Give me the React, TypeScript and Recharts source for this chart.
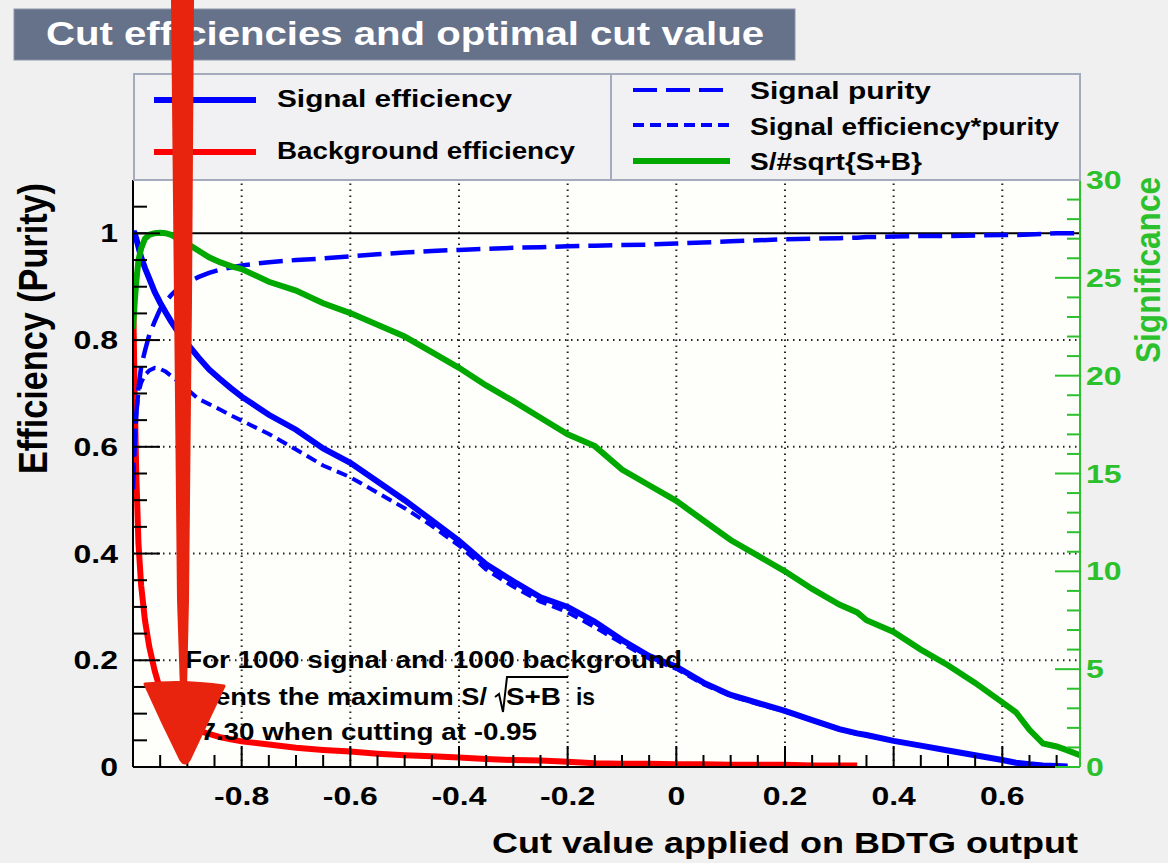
import React from 'react';
import { LineChart, Line, XAxis, YAxis, CartesianGrid, ReferenceLine } from 'recharts';

const FONT = '"Liberation Sans", Arial, Helvetica, sans-serif';
const STRETCH = 1.28;
const GREEN_LINE = '#00a800';
const GREEN_AXIS = '#2cc02c';

// cut value on the BDTG output
const cutValues = [
  -1.0, -0.997, -0.994, -0.99, -0.985, -0.978, -0.97, -0.96, -0.95, -0.94,
  -0.93, -0.92, -0.91, -0.9, -0.88, -0.86, -0.84, -0.82, -0.8, -0.75,
  -0.7, -0.65, -0.6, -0.55, -0.5, -0.45, -0.4, -0.35, -0.3, -0.25,
  -0.2, -0.15, -0.1, -0.05, 0, 0.05, 0.1, 0.15, 0.2, 0.25,
  0.3, 0.333, 0.35, 0.4, 0.45, 0.5, 0.55, 0.6, 0.625, 0.65,
  0.675, 0.7, 0.72, 0.743,
];

const signalEfficiency = [
  1.0, 1.0, 0.99, 0.975, 0.955, 0.935, 0.915, 0.89, 0.87, 0.852,
  0.835, 0.82, 0.806, 0.793, 0.768, 0.745, 0.727, 0.71, 0.694, 0.66,
  0.632, 0.597, 0.57, 0.535, 0.5, 0.462, 0.424, 0.38, 0.348, 0.318,
  0.3, 0.272, 0.238, 0.208, 0.188, 0.158, 0.135, 0.12, 0.105, 0.088,
  0.071, 0.063, 0.06, 0.049, 0.04, 0.031, 0.022, 0.013, 0.008, 0.005,
  0.003, 0.002, 0.001, null,
];

const backgroundEfficiency = [
  0.9, 0.7, 0.55, 0.42, 0.34, 0.275, 0.225, 0.18, 0.145, 0.12,
  0.103, 0.092, 0.083, 0.077, 0.068, 0.062, 0.056, 0.052, 0.048, 0.042,
  0.036, 0.032, 0.029, 0.025, 0.022, 0.02, 0.018, 0.015, 0.013, 0.012,
  0.01, 0.007, 0.006, 0.006, 0.005, 0.005, 0.004, 0.004, 0.004, 0.003,
  0.003, 0.003, null, null, null, null, null, null, null, null,
  null, null, null, null,
];

const signalPurity = [
  0.52, 0.6, 0.66, 0.71, 0.75, 0.78, 0.81, 0.835, 0.858, 0.872,
  0.884, 0.894, 0.902, 0.908, 0.918, 0.926, 0.932, 0.936, 0.94, 0.946,
  0.95, 0.953, 0.957, 0.961, 0.964, 0.967, 0.969, 0.971, 0.973, 0.974,
  0.976, 0.977, 0.978, 0.979, 0.981, 0.983, 0.985, 0.987, 0.989, 0.99,
  0.991, 0.992, 0.993, 0.994, 0.995, 0.995, 0.996, 0.997, 0.997, 0.998,
  0.999, 1.0, 1.0, 1.0,
];

const effTimesPurity = [
  0.55, 0.6, 0.66, 0.7, 0.72, 0.735, 0.743, 0.748, 0.746, 0.741,
  0.733, 0.725, 0.716, 0.708, 0.69, 0.68, 0.67, 0.659, 0.649, 0.624,
  0.595, 0.565, 0.543, 0.514, 0.485, 0.452, 0.415, 0.37, 0.338, 0.31,
  0.29, 0.262, 0.232, 0.203, 0.184, 0.155, 0.133, 0.118, 0.104, 0.087,
  0.07, 0.062, 0.059, 0.049, 0.04, 0.031, 0.022, 0.013, 0.008, 0.005,
  0.003, 0.002, 0.001, null,
];

// S/sqrt(S+B), right axis
const significance = [
  22.4, 23.7, 24.8, 25.9, 26.5, 27.0, 27.2, 27.28, 27.3, 27.28,
  27.2, 27.05, 26.9, 26.75, 26.4, 26.05, 25.8, 25.6, 25.45, 24.8,
  24.35, 23.7, 23.2, 22.6, 22.0, 21.2, 20.4, 19.5, 18.7, 17.85,
  17.0, 16.4, 15.2, 14.4, 13.6, 12.6, 11.6, 10.8, 10.0, 9.1,
  8.3, 7.9, 7.5, 6.9, 6.0, 5.2, 4.3, 3.3, 2.8, 1.9,
  1.2, 1.05, 0.85, 0.6,
];

// tick values
const xMajorTicks = [-0.8, -0.6, -0.4, -0.2, 0, 0.2, 0.4, 0.6];
const xMinorTicks = [
  -0.95, -0.9, -0.85, -0.75, -0.7, -0.65, -0.55, -0.5, -0.45, -0.35, -0.3, -0.25,
  -0.15, -0.1, -0.05, 0.05, 0.1, 0.15, 0.25, 0.3, 0.35, 0.45, 0.5, 0.55, 0.65, 0.7,
];
const yMajorTicks = [0, 0.2, 0.4, 0.6, 0.8, 1];
const yMinorTicks = [
  0.05, 0.1, 0.15, 0.25, 0.3, 0.35, 0.45, 0.5, 0.55, 0.65, 0.7, 0.75, 0.85, 0.9, 0.95, 1.05,
];
const sigMajorTicks = [0, 5, 10, 15, 20, 25, 30];
const sigMinorTicks = [
  1, 2, 3, 4, 6, 7, 8, 9, 11, 12, 13, 14, 16, 17, 18, 19, 21, 22, 23, 24, 26, 27, 28, 29,
];

const data = cutValues.map((cut, i) => ({
  cut,
  sigEff: signalEfficiency[i],
  bkgEff: backgroundEfficiency[i],
  purity: signalPurity[i],
  effPur: effTimesPurity[i],
  signif: significance[i],
}));

const isMajor = (v: number, majors: number[]) => majors.some((m) => Math.abs(m - v) < 1e-6);
const sortTicks = (a: number[], b: number[]) => [...a, ...b].sort((p, q) => p - q);

const XTick = (props: any) => {
  const { x, y, payload } = props;
  const major = isMajor(payload.value, xMajorTicks);
  return (
    <g>
      <line x1={x} x2={x} y1={y} y2={y - (major ? 21 : 12)} stroke="#000" strokeWidth={2} />
      {major && (
        <text
          transform={`translate(${x},${y + 38}) scale(${STRETCH},1)`}
          textAnchor="middle"
          fontFamily={FONT}
          fontWeight="bold"
          fontSize={25}
          fill="#000"
        >
          {String(payload.value)}
        </text>
      )}
    </g>
  );
};

const YLeftTick = (props: any) => {
  const { x, y, payload } = props;
  const major = isMajor(payload.value, yMajorTicks);
  return (
    <g>
      <line x1={x} x2={x + (major ? 27 : 14)} y1={y} y2={y} stroke="#000" strokeWidth={2} />
      {major && (
        <text
          transform={`translate(${x - 15},${y + 9}) scale(${STRETCH},1)`}
          textAnchor="end"
          fontFamily={FONT}
          fontWeight="bold"
          fontSize={25}
          fill="#000"
        >
          {String(payload.value)}
        </text>
      )}
    </g>
  );
};

const YRightTick = (props: any) => {
  const { x, y, payload } = props;
  const major = isMajor(payload.value, sigMajorTicks);
  return (
    <g>
      <line x1={x} x2={x - (major ? 25 : 13)} y1={y} y2={y} stroke={GREEN_AXIS} strokeWidth={2} />
      {major && (
        <text
          transform={`translate(${x + 6},${y + 9}) scale(${STRETCH},1)`}
          textAnchor="start"
          fontFamily={FONT}
          fontWeight="bold"
          fontSize={25}
          fill={GREEN_AXIS}
        >
          {String(payload.value)}
        </text>
      )}
    </g>
  );
};

const Txt = ({ x, y, len, size, fill = '#000', weight = 'bold', children }: any) => (
  <text
    x={x}
    y={y}
    textLength={len}
    lengthAdjust="spacingAndGlyphs"
    fontFamily={FONT}
    fontWeight={weight}
    fontSize={size}
    fill={fill}
  >
    {children}
  </text>
);

const Overlay = () => (
  <svg
    width={1168}
    height={863}
    style={{ position: 'absolute', left: 0, top: 0, pointerEvents: 'none' }}
  >
    {/* title */}
    <rect x={14} y={9} width={781} height={51} fill="#66718a" stroke="#8c95a8" strokeWidth={1} />
    <Txt x={46} y={45} len={718} size={34} fill="#ffffff">
      Cut efficiencies and optimal cut value
    </Txt>

    {/* legend */}
    <rect x={134} y={74} width={946} height={106} fill="#f1f1f3" stroke="#a3abbd" strokeWidth={2} />
    <line x1={611} x2={611} y1={74} y2={180} stroke="#a3abbd" strokeWidth={2} />
    <line x1={154} x2={256} y1={100} y2={100} stroke="#0000ff" strokeWidth={6} />
    <Txt x={277} y={107} len={235} size={23}>Signal efficiency</Txt>
    <line x1={154} x2={256} y1={152} y2={152} stroke="#ff0000" strokeWidth={6} />
    <Txt x={277} y={159} len={298} size={23}>Background efficiency</Txt>
    <line x1={633} x2={730} y1={90} y2={90} stroke="#0000ff" strokeWidth={4} strokeDasharray="24 9" />
    <Txt x={750} y={99} len={181} size={24}>Signal purity</Txt>
    <line x1={633} x2={730} y1={125} y2={125} stroke="#0000ff" strokeWidth={4} strokeDasharray="11 6" />
    <Txt x={750} y={135} len={309} size={24}>Signal efficiency*purity</Txt>
    <line x1={633} x2={730} y1={161} y2={161} stroke={GREEN_LINE} strokeWidth={6} />
    <Txt x={750} y={170} len={172} size={24}>{'S/#sqrt{S+B}'}</Txt>

    {/* axis titles */}
    <g transform={`translate(47,328.5) scale(${STRETCH},1) rotate(-90)`}>
      <text textAnchor="middle" textLength={291} lengthAdjust="spacingAndGlyphs" fontFamily={FONT} fontWeight="bold" fontSize={32} fill="#000">
        Efficiency (Purity)
      </text>
    </g>
    <g transform={`translate(1160,270) scale(${STRETCH},1) rotate(-90)`}>
      <text textAnchor="middle" textLength={186} lengthAdjust="spacingAndGlyphs" fontFamily={FONT} fontWeight="bold" fontSize={27} fill={GREEN_AXIS}>
        Significance
      </text>
    </g>
    <Txt x={492} y={853} len={586} size={30}>Cut value applied on BDTG output</Txt>

    {/* annotation */}
    <Txt x={185} y={668} len={497} size={23}>For 1000 signal and 1000 background</Txt>
    <Txt x={185} y={705} len={302} size={23}>events the maximum S/</Txt>
    <path d="M495,697 L499,694 L503,712 L507,677 L568,677" fill="none" stroke="#000" strokeWidth={2} />
    <Txt x={506} y={705} len={55} size={23}>S+B</Txt>
    <Txt x={576} y={705} len={19} size={23}>is</Txt>
    <Txt x={185} y={740} len={352} size={23}>27.30 when cutting at -0.95</Txt>

    {/* hand-drawn arrow */}
    <path d="M171,0 L194,0 L192,300 L189,600 L187,690 L180,690 L177,600 L174,300 Z" fill="#e8240e" />
    <path
      d="M145,684 Q184,680 224,686 Q206,724 189,760 Q185,766 181,760 Q162,722 145,684 Z"
      fill="#e8240e"
      stroke="#e8240e"
      strokeWidth={3}
      strokeLinejoin="round"
    />
  </svg>
);

export default function App() {
  return (
    <div
      style={{
        position: 'fixed',
        left: 0,
        top: 0,
        width: 1168,
        height: 863,
        background: '#f0f0f0',
        overflow: 'hidden',
      }}
    >
      <LineChart
        width={1168}
        height={863}
        data={data}
        margin={{ top: 180, right: 0, bottom: 0, left: 0 }}
      >
        <CartesianGrid fill="#fefefa" horizontal={false} vertical={false} stroke="none" />
        <XAxis
          dataKey="cut"
          type="number"
          domain={[-1, 0.743]}
          allowDataOverflow
          ticks={sortTicks(xMajorTicks, xMinorTicks)}
          interval={0}
          tickSize={0}
          tickMargin={0}
          height={96}
          axisLine={{ stroke: '#000', strokeWidth: 2 }}
          tickLine={false}
          tick={XTick}
        />
        <YAxis
          yAxisId="left"
          type="number"
          domain={[0, 1.1]}
          allowDataOverflow
          ticks={sortTicks(yMajorTicks, yMinorTicks)}
          interval={0}
          tickSize={0}
          tickMargin={0}
          width={133}
          axisLine={{ stroke: '#000', strokeWidth: 2 }}
          tickLine={false}
          tick={YLeftTick}
        />
        <YAxis
          yAxisId="right"
          orientation="right"
          type="number"
          domain={[0, 30]}
          allowDataOverflow
          ticks={sortTicks(sigMajorTicks, sigMinorTicks)}
          interval={0}
          tickSize={0}
          tickMargin={0}
          width={88}
          axisLine={{ stroke: GREEN_AXIS, strokeWidth: 2 }}
          tickLine={false}
          tick={YRightTick}
        />
        {xMajorTicks.map((v) => (
          <ReferenceLine key={`gx${v}`} x={v} yAxisId="left" stroke="#222" strokeWidth={2} strokeDasharray="1.5 4.5" />
        ))}
        {yMajorTicks.filter((v) => v > 0 && v < 1).map((v) => (
          <ReferenceLine key={`gy${v}`} y={v} yAxisId="left" stroke="#222" strokeWidth={2} strokeDasharray="1.5 4.5" />
        ))}
        <ReferenceLine y={1} yAxisId="left" stroke="#000" strokeWidth={2} />
        <Line yAxisId="left" type="linear" dataKey="sigEff" stroke="#0000ff" strokeWidth={6} dot={false} activeDot={false} isAnimationActive={false} />
        <Line yAxisId="left" type="linear" dataKey="bkgEff" stroke="#ff0000" strokeWidth={6} dot={false} activeDot={false} isAnimationActive={false} />
        <Line yAxisId="left" type="linear" dataKey="purity" stroke="#0000ff" strokeWidth={4.5} strokeDasharray="24 9" dot={false} activeDot={false} isAnimationActive={false} />
        <Line yAxisId="left" type="linear" dataKey="effPur" stroke="#0000ff" strokeWidth={4} strokeDasharray="11 6" dot={false} activeDot={false} isAnimationActive={false} />
        <Line yAxisId="right" type="linear" dataKey="signif" stroke={GREEN_LINE} strokeWidth={6} dot={false} activeDot={false} isAnimationActive={false} />
      </LineChart>
      <Overlay />
    </div>
  );
}
